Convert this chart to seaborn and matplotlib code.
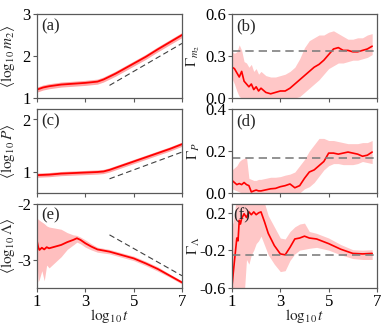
import numpy as np
import pandas as pd
import matplotlib
matplotlib.use("Agg")
import matplotlib.pyplot as plt
import seaborn as sns

# ---------------- data ----------------
x_a = [1.0, 1.25, 1.5, 1.75, 2.0, 2.5, 3.0, 3.5, 3.75, 4.0, 4.25, 4.5, 4.75, 5.0, 5.5, 6.0, 6.5, 7.0]
m2 = [1.20, 1.25, 1.28, 1.30, 1.32, 1.34, 1.36, 1.39, 1.44, 1.51, 1.58, 1.66, 1.74, 1.82, 1.98, 2.16, 2.33, 2.50]
m2_err = 0.06

x_c = [1.0, 1.5, 2.0, 2.5, 3.0, 3.5, 3.75, 4.0, 4.5, 5.0, 5.5, 6.0, 6.5, 7.0]
P = [0.94, 0.95, 0.97, 0.98, 0.99, 1.00, 1.01, 1.04, 1.12, 1.20, 1.28, 1.36, 1.44, 1.53]
P_err = 0.04

x_e = [1.0, 1.05, 1.1, 1.2, 1.3, 1.4, 1.5, 1.75, 2.0, 2.25, 2.5, 2.65, 2.8, 3.0, 3.25, 3.5,
       4.0, 4.5, 5.0, 5.5, 6.0, 6.5, 7.0]
Lam = [-2.67, -2.78, -2.83, -2.79, -2.82, -2.78, -2.80, -2.77, -2.74, -2.69, -2.65, -2.62, -2.65,
       -2.71, -2.77, -2.82, -2.86, -2.92, -2.98, -3.07, -3.17, -3.29, -3.41]
Lam_hi = [-2.27, -2.28, -2.30, -2.33, -2.36, -2.40, -2.42, -2.44, -2.46, -2.52, -2.56, -2.57, -2.60,
          -2.65, -2.72, -2.78, -2.82, -2.88, -2.94, -3.03, -3.13, -3.26, -3.38]
Lam_lo = [-3.05, -3.40, -3.35, -3.20, -3.38, -3.10, -3.15, -3.05, -2.95, -2.82, -2.74, -2.69, -2.72,
          -2.78, -2.83, -2.87, -2.90, -2.96, -3.02, -3.11, -3.21, -3.32, -3.44]

x_g = [1.0, 1.1, 1.2, 1.3, 1.4, 1.5, 1.6, 1.7, 1.8, 1.9, 2.0, 2.1, 2.2, 2.4, 2.6, 2.8, 3.0, 3.2,
       3.4, 3.6, 3.8, 4.0, 4.2, 4.4, 4.6, 4.8, 5.0, 5.2, 5.4, 5.6, 5.8, 6.0, 6.2, 6.4, 6.6, 6.8]
G_m2 = [0.22, 0.21, 0.18, 0.15, 0.19, 0.12, 0.10, 0.08, 0.10, 0.06, 0.08, 0.05, 0.07, 0.04, 0.03,
        0.04, 0.05, 0.05, 0.07, 0.10, 0.13, 0.16, 0.19, 0.22, 0.24, 0.27, 0.31, 0.35, 0.36, 0.34,
        0.34, 0.33, 0.33, 0.34, 0.35, 0.37]
G_m2_hi = [0.33, 0.32, 0.33, 0.38, 0.34, 0.26, 0.25, 0.22, 0.24, 0.19, 0.21, 0.17, 0.19, 0.16, 0.15,
           0.15, 0.16, 0.17, 0.19, 0.22, 0.28, 0.36, 0.41, 0.43, 0.45, 0.45, 0.47, 0.48, 0.46, 0.44,
           0.42, 0.42, 0.43, 0.43, 0.45, 0.46]
G_m2_lo = [0.14, 0.10, 0.05, 0.01, 0.00, -0.02, -0.04, -0.05, -0.05, -0.06, -0.05, -0.06, -0.06,
           -0.07, -0.07, -0.06, -0.05, -0.04, -0.02, 0.00, 0.01, 0.04, 0.07, 0.10, 0.13, 0.17, 0.21,
           0.23, 0.25, 0.25, 0.26, 0.27, 0.27, 0.28, 0.29, 0.31]

G_P = [0.06, 0.05, 0.04, 0.045, 0.04, 0.05, 0.04, 0.035, 0.005, 0.01, 0.014, 0.01, 0.01, 0.015,
       0.02, 0.022, 0.03, 0.035, 0.043, 0.025, 0.035, 0.07, 0.10, 0.11, 0.13, 0.15, 0.19, 0.19,
       0.185, 0.19, 0.195, 0.19, 0.185, 0.175, 0.18, 0.195]
G_P_hi = [0.11, 0.12, 0.13, 0.15, 0.16, 0.165, 0.17, 0.07, 0.065, 0.06, 0.06, 0.065, 0.065, 0.07,
          0.075, 0.075, 0.078, 0.085, 0.09, 0.10, 0.13, 0.16, 0.20, 0.23, 0.26, 0.26, 0.25, 0.25,
          0.245, 0.24, 0.235, 0.235, 0.235, 0.24, 0.24, 0.25]
G_P_lo = [0.02, 0.015, 0.01, 0.005, 0.0, -0.01, -0.01, -0.02, -0.03, -0.03, -0.03, -0.03, -0.03,
          -0.03, -0.03, -0.03, -0.03, -0.02, -0.01, -0.005, 0.0, 0.02, 0.03, 0.05, 0.08, 0.11, 0.13,
          0.14, 0.14, 0.135, 0.135, 0.135, 0.14, 0.15, 0.145, 0.14]

x_f = [1.0, 1.05, 1.1, 1.2, 1.25, 1.3, 1.35, 1.4, 1.5, 1.6, 1.7, 1.8, 1.9, 2.0, 2.1, 2.2, 2.35,
       2.5, 2.75, 3.0, 3.2, 3.4, 3.6, 3.8, 4.0, 4.2, 4.5, 5.0, 5.5, 6.0, 6.4, 6.8]
G_L = [-0.59, -0.45, -0.32, -0.07, -0.10, 0.12, 0.08, 0.14, 0.19, 0.15, 0.21, 0.18, 0.21, 0.18,
       0.20, 0.21, 0.10, -0.02, -0.15, -0.24, -0.25, -0.17, -0.08, -0.07, -0.05, -0.07, -0.08,
       -0.13, -0.19, -0.235, -0.24, -0.235]
G_L_hi = [0.07, 0.10, 0.20, 0.40, 0.45, 0.45, 0.45, 0.45, 0.45, 0.45, 0.45, 0.45, 0.45, 0.45,
          0.45, 0.40, 0.30, 0.17, 0.05, -0.07, -0.08, 0.0, 0.05, 0.08, 0.09, 0.0, -0.02, -0.07,
          -0.14, -0.195, -0.20, -0.195]
G_L_lo = [-0.9, -0.9, -0.9, -0.9, -0.9, -0.9, -0.9, -0.9, -0.7, -0.30, -0.35, -0.25, -0.20, -0.13,
          -0.10, -0.05, -0.15, -0.25, -0.35, -0.43, -0.42, -0.31, -0.24, -0.20, -0.19, -0.18,
          -0.17, -0.20, -0.25, -0.29, -0.30, -0.30]

# reference slopes / levels
guide_x = [4.0, 7.0]
guide_a = [1.30, 2.30]
guide_c = [0.87, 1.38]
guide_e = [-2.56, -3.29]
level_b = 1 / 3
level_d = 1 / 6
level_f = -0.25

xticks = [1, 3, 5, 7]

# ---------------- style ----------------
sns.set_style("ticks")
plt.rcParams["font.family"] = ["Liberation Serif", "STIXGeneral", "DejaVu Serif"]
plt.rcParams["mathtext.fontset"] = "stix"
plt.rcParams["axes.unicode_minus"] = False
plt.rcParams["font.size"] = 12
plt.rcParams["axes.labelsize"] = 11
plt.rcParams["axes.edgecolor"] = "0.35"
plt.rcParams["axes.linewidth"] = 0.9
plt.rcParams["xtick.color"] = "0.35"
plt.rcParams["ytick.color"] = "0.35"
plt.rcParams["xtick.labelcolor"] = "black"
plt.rcParams["ytick.labelcolor"] = "black"
plt.rcParams["xtick.major.size"] = 3
plt.rcParams["ytick.major.size"] = 3
plt.rcParams["xtick.major.pad"] = 1.5
plt.rcParams["ytick.major.pad"] = 1.5

fig = plt.figure(figsize=(3.85, 3.24), dpi=100)
lefts = [37 / 385, 232 / 385]
w = 145 / 385
bottoms = [1 - 98 / 324, 1 - 193 / 324, 1 - 287.5 / 324]
h = 84 / 324
axes = [[fig.add_axes([l, b, w, h]) for l in lefts] for b in bottoms]

RED = "#ff0000"


def left_panel(ax, x, y, lo, hi, guide, ylim, yt, ylabel, letter, band_alpha=0.35):
    ax.fill_between(x, lo, hi, color=RED, alpha=band_alpha, lw=0)
    sns.lineplot(x=x, y=y, ax=ax, color=RED, lw=1.3)
    sns.lineplot(x=guide_x, y=guide, ax=ax, color="0.25", lw=0.8, linestyle=(0, (5, 3)))
    ax.set_xlim(1, 7)
    ax.set_ylim(*ylim)
    ax.set_yticks(yt)
    ax.set_xticks(xticks)
    ax.set_ylabel(ylabel)
    ax.yaxis.set_label_coords(-0.135, 0.5)
    ax.text(0.03, 0.95, letter, transform=ax.transAxes, va="top", ha="left")


def right_panel(ax, x, y, lo, hi, level, ylim, yt, ytl, ylabel, letter, lx=0.03):
    ax.fill_between(x, lo, hi, color=RED, alpha=0.22, lw=0)
    sns.lineplot(x=x, y=y, ax=ax, color=RED, lw=1.2)
    ax.axhline(level, color="0.5", lw=1.2, linestyle=(0, (5, 3)))
    ax.set_xlim(1, 7)
    ax.set_ylim(*ylim)
    ax.set_yticks(yt)
    ax.set_yticklabels(ytl)
    ax.set_xticks(xticks)
    ax.set_ylabel(ylabel)
    ax.yaxis.set_label_coords(-0.21, 0.5)
    ax.text(lx, 0.95, letter, transform=ax.transAxes, va="top", ha="left")


left_panel(axes[0][0], x_a, m2, np.array(m2) - m2_err, np.array(m2) + m2_err, guide_a,
           (1, 3), [1, 2, 3], r"$\langle \log_{10} m_2 \rangle$", "(a)")
left_panel(axes[1][0], x_c, P, np.array(P) - P_err, np.array(P) + P_err, guide_c,
           (0.6, 2.2), [1, 2], r"$\langle \log_{10} P \rangle$", "(c)")
left_panel(axes[2][0], x_e, Lam, Lam_lo, Lam_hi, guide_e,
           (-3.5, -2), [-3, -2], r"$\langle \log_{10} \Lambda \rangle$", "(e)", band_alpha=0.25)

right_panel(axes[0][1], x_g, G_m2, G_m2_lo, G_m2_hi, level_b, (0, 0.6), [0, 0.3, 0.6],
            ["0.0", "0.3", "0.6"], r"$\Gamma_{m_2}$", "(b)")
right_panel(axes[1][1], x_g, G_P, G_P_lo, G_P_hi, level_d, (0, 0.4), [0, 0.2, 0.4],
            ["0.0", "0.2", "0.4"], r"$\Gamma_{P}$", "(d)")
right_panel(axes[2][1], x_f, G_L, G_L_lo, G_L_hi, level_f, (-0.6, 0.3), [-0.6, -0.2, 0.2],
            ["-0.6", "-0.2", "0.2"], r"$\Gamma_{\Lambda}$", "(f)", lx=0.01)

for row in axes[:2]:
    for ax in row:
        ax.set_xticklabels([])
        ax.set_xlabel("")
for ax in axes[2]:
    ax.set_xticklabels([str(t) for t in xticks])
    ax.set_xlabel(r"$\log_{10} t$", labelpad=-2)

fig.savefig("out.png", dpi=100)
